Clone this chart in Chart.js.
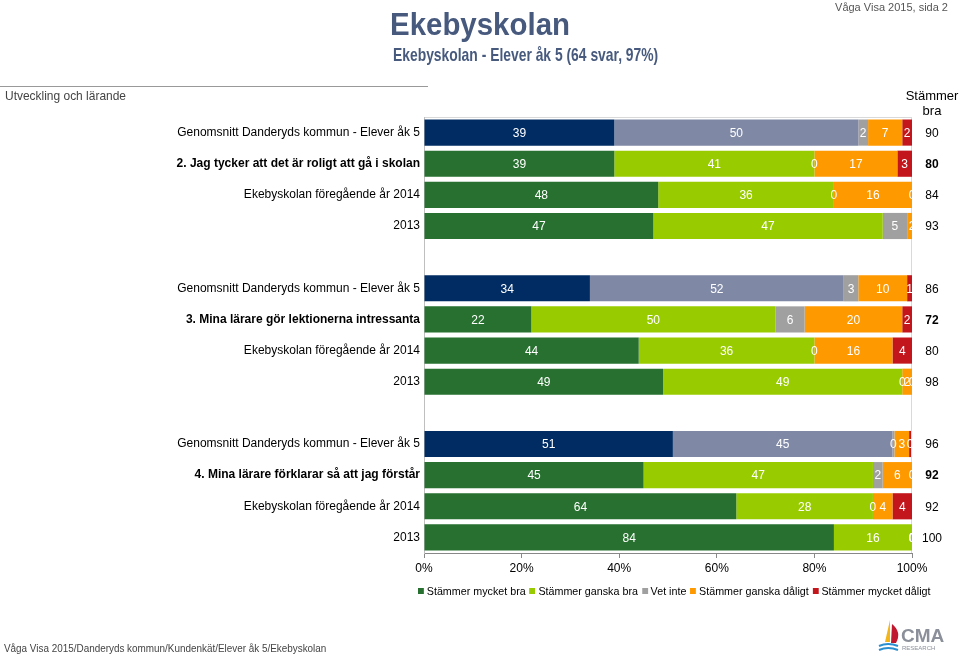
<!DOCTYPE html>
<html>
<head>
<meta charset="utf-8">
<script src="https://cdn.jsdelivr.net/npm/chart.js@4/dist/chart.umd.min.js"></script>
<style>
  html, body { margin: 0; padding: 0; background: #fff; }
  body { width: 960px; height: 657px; position: relative; overflow: hidden; font-family: "Liberation Sans", Arial, sans-serif; }
  #wrap { position: absolute; left: 0; top: 0; width: 960px; height: 657px; }
  .txt { position: absolute; white-space: nowrap; }
  #title { left: 390px; top: 6px; font-size: 32px; font-weight: bold; color: #475a7e; transform: scaleX(0.92); transform-origin: 0 0; }
  #subtitle { left: 393px; top: 44px; font-size: 19px; font-weight: bold; color: #475a7e; transform: scaleX(0.73); transform-origin: 0 0; }
  #page { right: 12px; top: 1px; font-size: 11px; color: #555; }
  #section { left: 5px; top: 88px; font-size: 13px; color: #444; transform: scaleX(0.92); transform-origin: 0 0; }
  #sectionLine { position: absolute; left: 0; top: 86px; width: 428px; height: 1px; background: #999; }
  #colHead { left: 904px; top: 88px; font-size: 13px; color: #000; text-align: center; line-height: 15px; width: 56px; }
  #legend { left: 418px; top: 585px; font-size: 11px; color: #000; transform: scaleX(0.975); transform-origin: 0 0; }
  #legend span.sw { display: inline-block; width: 6px; height: 6px; margin: 0 3px 1px 0; }
  #legend span.it { margin-right: 4px; }
  #footer { left: 4px; top: 642px; font-size: 11px; color: #444; transform: scaleX(0.9); transform-origin: 0 0; }
  #logo { left: 876px; top: 616px; width: 70px; height: 40px; }
</style>
</head>
<body>
<div id="wrap"><canvas id="chart" width="960" height="657"></canvas></div>
<div class="txt" id="title">Ekebyskolan</div>
<div class="txt" id="subtitle">Ekebyskolan - Elever åk 5 (64 svar, 97%)</div>
<div class="txt" id="page">Våga Visa 2015, sida 2</div>
<div id="sectionLine"></div>
<div class="txt" id="section">Utveckling och lärande</div>
<div class="txt" id="colHead">Stämmer<br>bra</div>
<div class="txt" id="legend"></div>
<div class="txt" id="footer">Våga Visa 2015/Danderyds kommun/Kundenkät/Elever åk 5/Ekebyskolan</div>
<div class="txt" id="logo">
  <svg width="70" height="40" viewBox="0 0 70 40">
    <path d="M14 4 L9 26 L14 26 Z" fill="#f2b51c"/>
    <path d="M16 8 Q26 16 20 27 L15 27 Z" fill="#c0182e"/>
    <path d="M3 30 Q12 26 22 30" stroke="#2a8fd0" stroke-width="2" fill="none"/>
    <path d="M3 34 Q12 30 22 34" stroke="#2a8fd0" stroke-width="2" fill="none"/>
    <text x="25" y="26" font-family="Liberation Sans" font-weight="bold" font-size="19" fill="#8a8f99">CMA</text>
    <text x="26" y="34" font-family="Liberation Sans" font-size="6" fill="#8a8f99">RESEARCH</text>
  </svg>
</div>
<script>
// categories (blank rows separate the three questions)
const categories = [
  'Genomsnitt Danderyds kommun - Elever åk 5',
  '2. Jag tycker att det är roligt att gå i skolan',
  'Ekebyskolan föregående år 2014',
  '2013',
  '',
  'Genomsnitt Danderyds kommun - Elever åk 5',
  '3. Mina lärare gör lektionerna intressanta',
  'Ekebyskolan föregående år 2014',
  '2013',
  '',
  'Genomsnitt Danderyds kommun - Elever åk 5',
  '4. Mina lärare förklarar så att jag förstår',
  'Ekebyskolan föregående år 2014',
  '2013'
];
const boldRows = [1, 6, 11];
const avgRows = [0, 5, 10];

// percent per answer
const mycketBra    = [39, 39, 48, 47, null, 34, 22, 44, 49, null, 51, 45, 64, 84];
const ganskaBra    = [50, 41, 36, 47, null, 52, 50, 36, 49, null, 45, 47, 28, 16];
const vetInte      = [2, 0, 0, 5, null, 3, 6, 0, 0, null, 0.4, 2, 0, 0];
const ganskaDaligt = [7, 17, 16, 2, null, 10, 20, 16, 2, null, 3, 6, 4, 0];
const mycketDaligt = [2, 3, 0, 0, null, 1, 2, 4, 0, null, 0.4, 0, 4, 0];

// "Stämmer bra" column on the right
const stammerBra = [90, 80, 84, 93, null, 86, 72, 80, 98, null, 96, 92, 92, 100];

const xTicks = [0, 20, 40, 60, 80, 100];

const seriesNames = ['Stämmer mycket bra', 'Stämmer ganska bra', 'Vet inte', 'Stämmer ganska dåligt', 'Stämmer mycket dåligt'];
const seriesColors = ['#27702f', '#99cc00', '#a0a0a0', '#ff9900', '#c3161c'];
const avgColors = ['#012c63', '#7f89a6', '#a0a0a0', '#ff9900', '#c3161c'];
const seriesData = [mycketBra, ganskaBra, vetInte, ganskaDaligt, mycketDaligt];

const FONT = "'Liberation Sans', Arial, sans-serif";

// legend as html
document.getElementById('legend').innerHTML = seriesNames.map((n, i) =>
  '<span class="sw" style="background:' + seriesColors[i] + '"></span><span class="it">' + n + '</span>'
).join('');

const labelPlugin = {
  id: 'segLabels',
  beforeDraw(chart) {
    const { ctx, chartArea: a } = chart;
    ctx.save();
    ctx.strokeStyle = '#d9d9d9';
    ctx.lineWidth = 1;
    ctx.strokeRect(a.left + 0.5, a.top + 0.5, a.right - a.left - 1, a.bottom - a.top);
    ctx.restore();
  },
  afterDatasetsDraw(chart) {
    const { ctx } = chart;
    ctx.save();
    ctx.font = '12px ' + FONT;
    ctx.textAlign = 'center';
    ctx.textBaseline = 'middle';
    ctx.fillStyle = '#ffffff';
    chart.data.datasets.forEach((ds, di) => {
      const meta = chart.getDatasetMeta(di);
      meta.data.forEach((el, i) => {
        const v = ds.data[i];
        if (v === null || v === undefined) return;
        ctx.fillText(String(Math.round(v)), (el.x + el.base) / 2, el.y + 1);
      });
    });
    // Stämmer bra column
    const y = chart.scales.y;
    ctx.fillStyle = '#000';
    stammerBra.forEach((v, i) => {
      if (v === null) return;
      ctx.font = (boldRows.includes(i) ? 'bold ' : '') + '12px ' + FONT;
      ctx.fillText(String(v), 932, y.getPixelForValue(i) + 1);
    });
    ctx.restore();
  }
};

new Chart(document.getElementById('chart'), {
  type: 'bar',
  data: {
    labels: categories,
    datasets: seriesData.map((d, si) => ({
      label: seriesNames[si],
      data: d,
      backgroundColor: categories.map((c, i) => avgRows.includes(i) ? avgColors[si] : seriesColors[si]),
      borderWidth: 0,
      categoryPercentage: 1,
      barPercentage: 0.84
    }))
  },
  options: {
    indexAxis: 'y',
    responsive: false,
    animation: false,
    layout: { padding: { left: 0, right: 48, top: 117, bottom: 74 } },
    plugins: {
      legend: { display: false },
      tooltip: { enabled: false }
    },
    scales: {
      x: {
        stacked: true,
        min: 0,
        max: 100,
        afterBuildTicks: (s) => { s.ticks = xTicks.map(v => ({ value: v })); },
        afterFit: (s) => { s.height = 30; },
        grid: { drawOnChartArea: false, color: '#888', tickLength: 5 },
        border: { color: '#888' },
        ticks: { color: '#000', padding: 3, font: { family: FONT, size: 12 }, callback: v => v + '%' }
      },
      y: {
        stacked: true,
        afterFit: (s) => { s.width = 424; },
        grid: { display: false, drawTicks: false },
        border: { color: '#bfbfbf' },
        ticks: {
          color: '#000',
          padding: 4,
          autoSkip: false,
          font: (c) => ({ family: FONT, size: 12, weight: boldRows.includes(c.index) ? 'bold' : 'normal' })
        }
      }
    }
  },
  plugins: [labelPlugin]
});
</script>
</body>
</html>
